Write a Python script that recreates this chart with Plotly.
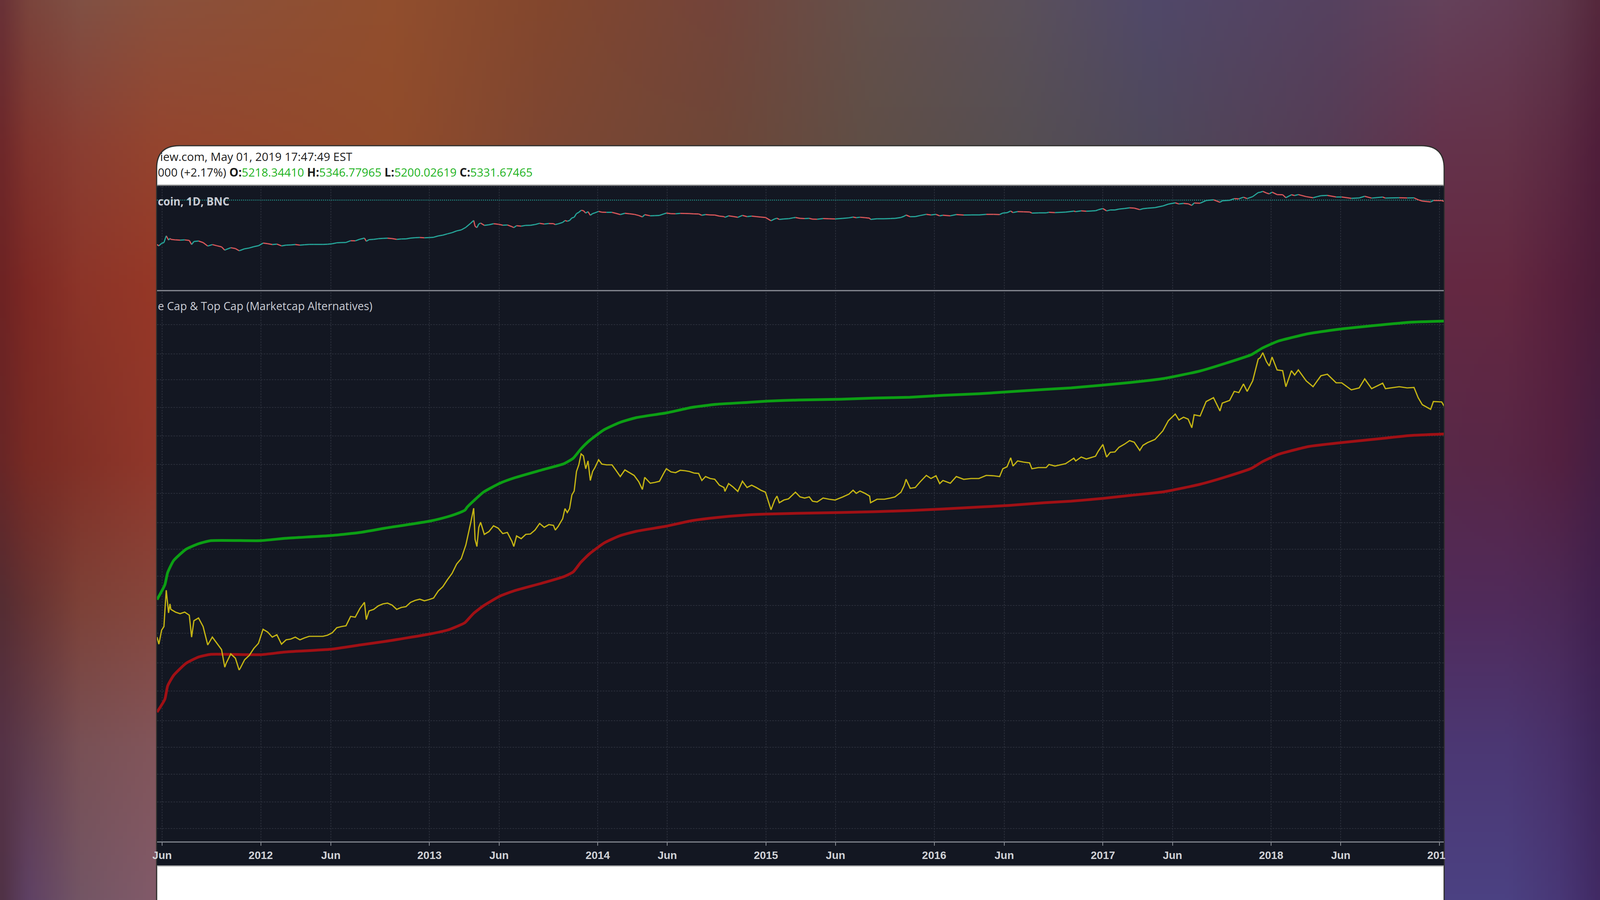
import base64
import struct
import zlib

import numpy as np
import pandas as pd
import plotly.graph_objects as go

W, H = 4098, 2304

# no y axis is visible in the picture, so levels are relative heights above the lower pane floor
DAY_ZERO = pd.Timestamp("2012-01-01")

price_days = [
    -225, -221, -215, -210, -207, -205, -200, -197, -195, -185, -175, -165,
    -155, -150, -145, -135, -125, -115, -105, -95, -85, -78, -75, -65,
    -55, -47, -45, -35, -25, -15, -5, 5, 15, 25, 35, 45,
    55, 65, 75, 85, 95, 105, 115, 125, 135, 145, 155, 165,
    175, 185, 195, 205, 215, 225, 229, 235, 245, 255, 265, 275,
    285, 295, 305, 315, 325, 335, 345, 355, 365, 375, 385, 395,
    405, 415, 425, 435, 445, 455, 462, 465, 469, 473, 477, 485,
    495, 505, 515, 525, 535, 545, 549, 555, 565, 575, 585, 595,
    605, 615, 625, 635, 639, 645, 655, 660, 665, 670, 675, 680,
    685, 690, 695, 700, 705, 710, 715, 720, 725, 733, 740, 750,
    762, 770, 780, 790, 800, 810, 820, 828, 833, 845, 855, 865,
    875, 880, 890, 900, 910, 920, 930, 940, 950, 957, 965, 975,
    985, 995, 1005, 1007, 1015, 1025, 1035, 1045, 1055, 1065, 1075, 1085,
    1095, 1107, 1115, 1120, 1125, 1135, 1145, 1155, 1160, 1170, 1180, 1190,
    1197, 1207, 1220, 1233, 1246, 1263, 1276, 1285, 1292, 1300, 1311, 1321,
    1323, 1337, 1353, 1366, 1376, 1389, 1396, 1400, 1409, 1420, 1431, 1444,
    1454, 1465, 1473, 1480, 1496, 1509, 1525, 1541, 1558, 1574, 1590, 1603,
    1610, 1619, 1627, 1632, 1642, 1655, 1668, 1673, 1687, 1704, 1710, 1723,
    1746, 1764, 1768, 1780, 1791, 1811, 1817, 1827, 1835, 1843, 1853, 1862,
    1874, 1885, 1895, 1907, 1914, 1924, 1940, 1957, 1969, 1984, 1992, 2002,
    2012, 2020, 2025, 2038, 2051, 2067, 2081, 2086, 2102, 2112, 2122, 2132,
    2140, 2152, 2164, 2168, 2174, 2182, 2188, 2194, 2205, 2217, 2224, 2236,
    2243, 2251, 2268, 2283, 2292, 2300, 2314, 2333, 2345, 2366, 2383, 2395,
    2410, 2434, 2440, 2470, 2487, 2502, 2511, 2520, 2538, 2544, 2562, 2568,
]
price_levels = [
    523, 505, 541, 550, 608, 643, 585, 608, 594, 587, 583, 587,
    579, 523, 565, 572, 550, 503, 523, 507, 491, 446, 456, 480,
    469, 439, 442, 465, 476, 494, 507, 543, 536, 523, 529, 505,
    516, 518, 523, 516, 521, 525, 525, 525, 525, 528, 534, 547,
    550, 552, 576, 574, 596, 612, 568, 590, 594, 603, 608, 610,
    605, 594, 599, 601, 612, 617, 620, 616, 619, 623, 641, 652,
    670, 686, 710, 724, 759, 813, 853, 773, 755, 804, 817, 786,
    793, 808, 802, 788, 791, 768, 755, 782, 775, 786, 787, 797,
    814, 804, 811, 809, 797, 806, 826, 852, 842, 852, 887, 897,
    947, 964, 992, 987, 954, 974, 924, 947, 957, 977, 966, 964,
    964, 951, 934, 951, 944, 937, 921, 901, 932, 917, 919, 922,
    944, 954, 946, 944, 950, 949, 947, 943, 942, 924, 934, 929,
    927, 912, 906, 896, 916, 907, 896, 922, 906, 912, 906, 899,
    894, 849, 874, 884, 867, 874, 877, 889, 894, 882, 879, 882,
    871, 869, 879, 876, 874, 882, 889, 899, 891, 897, 891, 884,
    867, 876, 876, 879, 882, 894, 911, 927, 904, 906, 921, 937,
    929, 936, 916, 924, 917, 934, 927, 929, 929, 937, 936, 934,
    954, 959, 982, 961, 974, 971, 969, 954, 957, 957, 965, 961,
    967, 981, 974, 984, 979, 986, 999, 1016, 984, 996, 997, 1009,
    1017, 1026, 1022, 1001, 1014, 1021, 1029, 1051, 1077, 1094, 1079, 1086,
    1081, 1059, 1092, 1089, 1126, 1136, 1102, 1122, 1129, 1152, 1149, 1171,
    1152, 1179, 1235, 1238, 1251, 1228, 1217, 1240, 1207, 1205, 1164, 1205,
    1194, 1207, 1179, 1164, 1179, 1192, 1196, 1174, 1174, 1156, 1161, 1184,
    1159, 1173, 1159, 1164, 1161, 1162, 1136, 1118, 1106, 1126, 1125, 1113,
]

cap_days = [
    -225, -208, -202, -189, -162, -135, -108, 0, 54, 152, 216, 270, 367, 405,
    421, 443, 448, 462, 483, 519, 551, 610, 658, 678, 694, 713, 745, 778,
    815, 880, 935, 988, 1058, 1097, 1167, 1259, 1331, 1408, 1480, 1558, 1622,
    1700, 1758, 1826, 1888, 1959, 2037, 2096, 2149, 2173, 2208, 2274, 2345,
    2428, 2493, 2568,
]
top_cap = [
    619, 657, 688, 719, 748, 762, 770, 770, 776, 783, 791, 802, 820, 831,
    837, 848, 856, 872, 894, 917, 931, 951, 967, 981, 1004, 1026, 1054, 1072,
    1085, 1097, 1111, 1119, 1124, 1127, 1130, 1132, 1135, 1137, 1142, 1146, 1151,
    1157, 1161, 1168, 1175, 1185, 1204, 1225, 1246, 1263, 1281, 1300, 1312,
    1322, 1329, 1332,
]
average_cap = [
    331, 364, 398, 425, 456, 472, 479, 478, 485, 492, 503, 512, 531, 541,
    548, 560, 566, 584, 603, 628, 642, 661, 678, 690, 714, 736, 764, 782,
    794, 807, 821, 829, 836, 838, 840, 842, 844, 847, 851, 856, 860,
    867, 871, 878, 886, 895, 914, 934, 955, 972, 991, 1011, 1021,
    1031, 1039, 1043,
]

last_close_level = 1132
grid_levels = [1406, 1323, 1248, 1182, 1111, 1038, 965, 891, 816, 748, 679,
               604, 533, 457, 385, 309, 241, 172, 101, 33]

tick_dates = ["2011-06-01", "2012-01-01", "2012-06-01", "2013-01-01", "2013-06-01",
              "2014-01-01", "2014-06-01", "2015-01-01", "2015-06-01", "2016-01-01",
              "2016-06-01", "2017-01-01", "2017-06-01", "2018-01-01", "2018-06-01",
              "2019-01-01"]
# 2019 is cut by the card edge in the picture, figure space keeps it centred on its tick
tick_labels = ["Jun", "2012", "Jun", "2013", "Jun", "2014", "Jun", "2015", "Jun",
               "2016", "Jun", "2017", "Jun", "2018", "Jun", "201\u2007"]

# backdrop colours, read along the visible strips around the card
bg_x = [0, 67, 200, 400, 1000, 1400, 1830, 2220, 2614, 2950, 3400, 3697, 3864, 3997, 4098]
bg_y = [0, 373, 735, 1176, 1544, 1911, 2304]
bg_middle = [(145, 75, 42), (125, 70, 50), (110, 70, 55), (95, 78, 70), (85, 78, 82),
             (78, 72, 90), (85, 60, 85)]
bg_colors = [
    [(105, 50, 55), (122, 68, 60), (128, 80, 68), (138, 80, 60), (145, 78, 45), (130, 70, 45),
     (115, 68, 58), (100, 80, 75), (90, 80, 90), (80, 72, 105), (85, 65, 95),
     (100, 65, 90), (100, 60, 85), (95, 55, 75), (85, 40, 60)],
    [(110, 40, 42), (128, 52, 45), (138, 62, 50), (148, 68, 46)] + bg_middle
    + [(100, 50, 75), (100, 50, 72), (92, 42, 66), (80, 30, 58)],
    [(110, 35, 35), (125, 40, 35), (140, 52, 40), (150, 55, 38)] + bg_middle
    + [(100, 40, 66), (100, 40, 64), (88, 32, 60), (76, 28, 56)],
    [(105, 38, 38), (120, 42, 35), (130, 48, 38), (145, 55, 42)] + bg_middle
    + [(88, 40, 72), (88, 38, 70), (83, 32, 64), (70, 30, 66)],
    [(85, 45, 50), (100, 50, 50), (125, 65, 55), (135, 70, 60)] + bg_middle
    + [(80, 42, 90), (80, 42, 90), (75, 40, 85), (65, 32, 78)],
    [(85, 50, 70), (95, 60, 75), (120, 80, 85), (130, 85, 90)] + bg_middle
    + [(75, 55, 115), (75, 55, 115), (72, 48, 105), (62, 38, 90)],
    [(80, 50, 70), (95, 65, 100), (115, 85, 100), (130, 90, 105)] + bg_middle
    + [(75, 65, 130), (75, 65, 130), (72, 55, 118), (65, 42, 100)],
]


def px_x(x):
    return x / W


def px_y(y):
    return 1 - y / H


def to_dates(days):
    return DAY_ZERO + pd.to_timedelta(days, unit="D")


def backdrop_uri():
    # small blurred png for the backdrop, upscaled by the browser
    xs = np.linspace(0, W, 410)
    ys = np.linspace(0, H, 231)
    table = np.array(bg_colors, dtype=float)
    rows = np.stack([[np.interp(xs, bg_x, table[r, :, c]) for c in range(3)]
                     for r in range(len(bg_y))])
    img = np.stack([[np.interp(ys, bg_y, rows[:, c, i]) for i in range(len(xs))]
                    for c in range(3)])
    img = np.transpose(img, (2, 1, 0)).round().astype(np.uint8)
    raw = b"".join(b"\x00" + row.tobytes() for row in img)

    def chunk(tag, data):
        return (struct.pack(">I", len(data)) + tag + data
                + struct.pack(">I", zlib.crc32(tag + data)))

    header = struct.pack(">IIBBBBB", img.shape[1], img.shape[0], 8, 2, 0, 0, 0)
    png = (b"\x89PNG\r\n\x1a\n" + chunk(b"IHDR", header)
           + chunk(b"IDAT", zlib.compress(raw, 9)) + chunk(b"IEND", b""))
    return "data:image/png;base64," + base64.b64encode(png).decode()


price_x = to_dates(price_days)
cap_x = to_dates(cap_days)

# upper pane: same series, coloured by direction like the tiny candles
up_x, up_y, down_x, down_y = [], [], [], []
for i in range(1, len(price_levels)):
    if price_levels[i] >= price_levels[i - 1]:
        up_x += [price_x[i - 1], price_x[i], None]
        up_y += [price_levels[i - 1], price_levels[i], None]
    else:
        down_x += [price_x[i - 1], price_x[i], None]
        down_y += [price_levels[i - 1], price_levels[i], None]

x_range = ["2011-05-21", "2019-01-10 12:00"]

fig = go.Figure()
fig.add_trace(go.Scatter(x=x_range, y=[last_close_level, last_close_level], yaxis="y2",
                         mode="lines", line=dict(color="#26a69a", width=2.5, dash="2px,3px")))
fig.add_trace(go.Scatter(x=down_x, y=down_y, yaxis="y2", mode="lines",
                         line=dict(color="#d9575a", width=3)))
fig.add_trace(go.Scatter(x=up_x, y=up_y, yaxis="y2", mode="lines",
                         line=dict(color="#26a69a", width=3)))
fig.add_trace(go.Scatter(x=cap_x, y=top_cap, mode="lines",
                         line=dict(color="#0c9f14", width=7, shape="spline", smoothing=0.5)))
fig.add_trace(go.Scatter(x=cap_x, y=average_cap, mode="lines",
                         line=dict(color="#a01015", width=7, shape="spline", smoothing=0.5)))
fig.add_trace(go.Scatter(x=price_x, y=price_levels, mode="lines",
                         line=dict(color="#c4b414", width=3.2)))

LEFT, RIGHT = 402, 3696
card_r = 58
card_path = (
    f"M {px_x(401)} {px_y(2310)} L {px_x(401)} {px_y(373 + card_r)} "
    f"Q {px_x(401)} {px_y(373)} {px_x(401 + card_r)} {px_y(373)} "
    f"L {px_x(3697 - card_r)} {px_y(373)} "
    f"Q {px_x(3697)} {px_y(373)} {px_x(3697)} {px_y(373 + card_r)} "
    f"L {px_x(3697)} {px_y(2310)} Z"
)
shapes = [
    dict(type="path", path=card_path, xref="paper", yref="paper", layer="below",
         fillcolor="#ffffff", line=dict(color="#30302e", width=3)),
    dict(type="rect", xref="paper", yref="paper", layer="below",
         x0=px_x(LEFT), x1=px_x(RIGHT), y0=px_y(2217), y1=px_y(474),
         fillcolor="#131722", line=dict(width=0)),
]
for line_y, line_color in [(474, "#9a9a9a"), (744, "#8c8f97"), (2217, "#b4b4b4")]:
    shapes.append(dict(type="line", xref="paper", yref="paper", layer="below",
                       x0=px_x(LEFT), x1=px_x(RIGHT), y0=px_y(line_y), y1=px_y(line_y),
                       line=dict(color=line_color, width=3)))

green = "#1fb31f"
ohlc_line = (
    "000 (+2.17%) "
    f"<b>O:</b><span style='color:{green}'>5218.34410</span> "
    f"<b>H:</b><span style='color:{green}'>5346.77965</span> "
    f"<b>L:</b><span style='color:{green}'>5200.02619</span> "
    f"<b>C:</b><span style='color:{green}'>5331.67465</span>"
)
text_font = "Open Sans"
annotations = [
    dict(text="iew.com, May 01, 2019 17:47:49 EST", x=px_x(408), y=px_y(401),
         font=dict(family=text_font, size=29.5, color="#1c1c1c")),
    dict(text=ohlc_line, x=px_x(402), y=px_y(440),
         font=dict(family=text_font, size=29.5, color="#1c1c1c")),
    dict(text="<b>coin, 1D, BNC</b>", x=px_x(402), y=px_y(515),
         font=dict(family=text_font, size=27.7, color="#c9ccd4")),
    dict(text="e Cap &amp; Top Cap (Marketcap Alternatives)", x=px_x(402), y=px_y(783),
         font=dict(family=text_font, size=28.5, color="#c9ccd4")),
]
for a in annotations:
    a.update(xref="paper", yref="paper", xanchor="left", yanchor="middle", showarrow=False)

grid_color = "#2a2e3a"
fig.update_layout(
    width=W,
    height=H,
    margin=dict(l=0, r=0, t=0, b=0, autoexpand=False),
    showlegend=False,
    hovermode=False,
    paper_bgcolor="#5a3a50",
    plot_bgcolor="rgba(0,0,0,0)",
    images=[dict(source=backdrop_uri(), xref="paper", yref="paper", x=0, y=1,
                 sizex=1, sizey=1, sizing="stretch", xanchor="left", yanchor="top",
                 layer="below")],
    shapes=shapes,
    annotations=annotations,
    xaxis=dict(
        type="date",
        domain=[px_x(LEFT), px_x(RIGHT)],
        range=x_range,
        tickmode="array",
        tickvals=tick_dates,
        ticktext=tick_labels,
        tickfont=dict(family="Liberation Sans", size=28, color="#d0d2d6", weight=600),
        ticks="outside",
        ticklen=8,
        tickwidth=2,
        tickcolor="#8a8e96",
        ticklabelstandoff=0,
        showline=True,
        linecolor="#7f838c",
        linewidth=3,
        showgrid=True,
        gridcolor=grid_color,
        gridwidth=2,
        griddash="4px,3px",
        zeroline=False,
    ),
    yaxis=dict(
        domain=[px_y(2154), px_y(748)],
        range=[0, 1406],
        tickmode="array",
        tickvals=grid_levels,
        showticklabels=False,
        gridcolor=grid_color,
        gridwidth=2,
        griddash="4px,3px",
        zeroline=False,
    ),
    yaxis2=dict(
        domain=[px_y(743), px_y(477)],
        range=[-102, 1320],
        tickmode="array",
        tickvals=[1314],
        showticklabels=False,
        gridcolor=grid_color,
        gridwidth=2,
        griddash="4px,3px",
        zeroline=False,
    ),
)

fig.write_html("out.html", config=dict(displayModeBar=False),
               post_script="document.body.style.margin='0';document.documentElement.style.overflow='hidden';")
